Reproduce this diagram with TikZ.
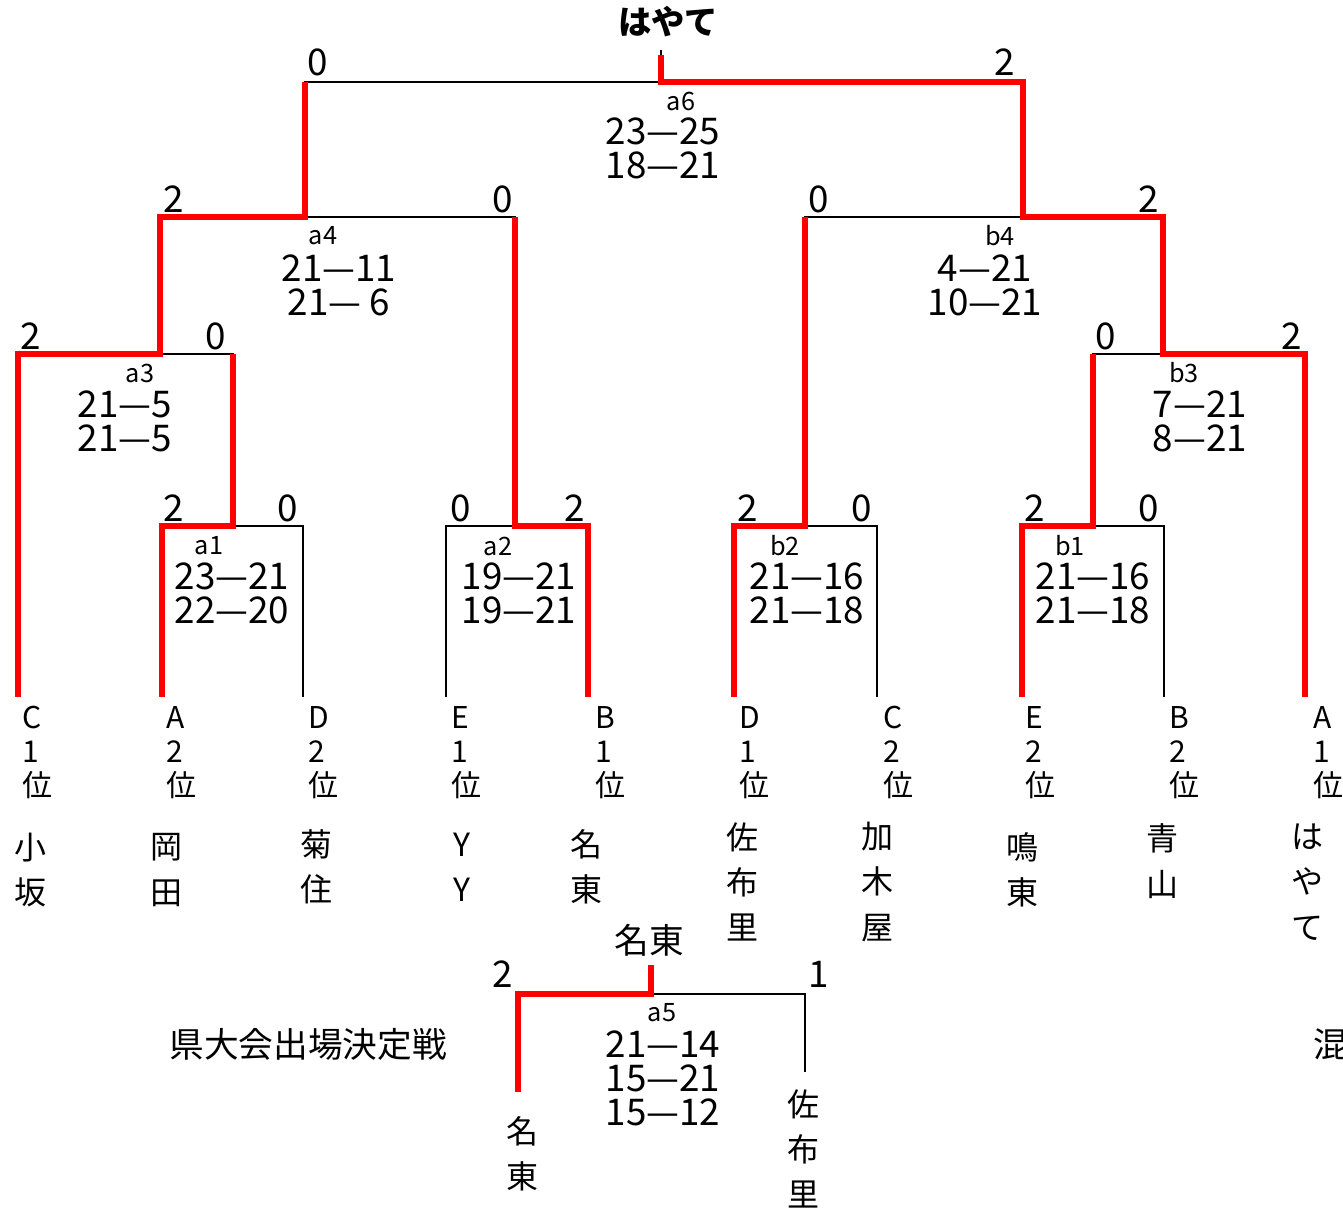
\documentclass[tikz,border=0pt]{standalone}
\usepackage{fontspec}
\setmainfont{Noto Sans CJK JP}
\newcommand\myscore{\fontsize{27.6}{25.5}\selectfont}
\newcommand\mymatch{\fontsize{19}{20}\selectfont}
\newcommand\myleaf{\fontsize{22.5}{25.5}\selectfont}
\newcommand\myteam{\fontsize{24}{34}\selectfont}
\newcommand\mybig{\fontsize{26}{30}\selectfont}
\newcommand\mytitle{\fontsize{25}{30}\selectfont\bfseries}
\tikzset{
  bk/.style={line width=1.5pt, black},
  rd/.style={line width=4.5pt, red},
  pts/.style={font=\myscore, inner sep=0pt},
  mlab/.style={font=\mymatch, inner sep=0pt},
  sco/.style={font=\myscore, align=center, inner sep=0pt},
  leaf/.style={font=\myleaf, align=left, anchor=north west, inner sep=0pt},
  team/.style={font=\myteam, align=center, inner sep=0pt},
}
\begin{document}
\begin{tikzpicture}[x=0.75pt,y=-0.75pt]
\useasboundingbox (0,0) rectangle (1343,1209);
% leaf ends
\coordinate (l1) at (18,697);
\coordinate (l2) at (162,697);
\coordinate (l3) at (303,697);
\coordinate (l4) at (446,697);
\coordinate (l5) at (588,697);
\coordinate (l6) at (734,697);
\coordinate (l7) at (877,697);
\coordinate (l8) at (1022,697);
\coordinate (l9) at (1164,697);
\coordinate (l10) at (1305,697);
% junctions
\coordinate (a1) at (233,526);
\coordinate (a2) at (515,526);
\coordinate (b2) at (805,526);
\coordinate (b1) at (1093,526);
\coordinate (a3) at (160,354);
\coordinate (b3) at (1163,354);
\coordinate (a4) at (305,217);
\coordinate (b4) at (1023,217);
\coordinate (a6) at (661,82);
\coordinate (top) at (661,50);
\coordinate (top2) at (661,55);
\coordinate (a5) at (651,994);
\coordinate (a5top) at (651,965);
\coordinate (m1) at (518,1092);
\coordinate (m2) at (805,1072);
% black bracket
\draw[bk] (l2) |- (a1) -| (l3);
\draw[bk] (l4) |- (a2) -| (l5);
\draw[bk] (l6) |- (b2) -| (l7);
\draw[bk] (l8) |- (b1) -| (l9);
\draw[bk] (l1) |- (a3) -| (a1);
\draw[bk] (b1) |- (b3) -| (l10);
\draw[bk] (a3) |- (a4) -| (a2);
\draw[bk] (b2) |- (b4) -| (b3);
\draw[bk] (a4) |- (a6) -| (b4);
\draw[bk] (a6) -- (top);
\draw[bk] (m1) |- (a5) -| (m2);
\draw[bk] (a5) -- (a5top);
% red winner paths
\draw[rd] (l2) |- (a1) -- (a1 |- a3);
\draw[rd] (l5) |- (a2) -- (a2 |- a4);
\draw[rd] (l6) |- (b2) -- (b2 |- b4);
\draw[rd] (l8) |- (b1) -- (b1 |- b3);
\draw[rd] (l1) |- (a3) -- (a3 |- a4) -- (a4) -- (a4 |- a6);
\draw[rd] (l10) |- (b3) -- (b3 |- b4) -- (b4) -- (b4 |- a6) -- (a6) -- (top2);
\draw[rd] (m1) |- (a5) -- (a5top);
% title
\node[font=\mytitle, inner sep=0pt] (champ) at (668,22) {はやて};
% game points
\node[pts] (p6l) at (318,62) {0};
\node[pts] (p6r) at (1005,62) {2};
\node[pts] (p4l) at (174,199) {2};
\node[pts] (p4r) at (503,199) {0};
\node[pts] (q4l) at (819,199) {0};
\node[pts] (q4r) at (1149,199) {2};
\node[pts] (p3l) at (31,336) {2};
\node[pts] (p3r) at (216,336) {0};
\node[pts] (q3l) at (1106,336) {0};
\node[pts] (q3r) at (1292,336) {2};
\node[pts] (p1l) at (174,508) {2};
\node[pts] (p1r) at (288,508) {0};
\node[pts] (p2l) at (461,508) {0};
\node[pts] (p2r) at (575,508) {2};
\node[pts] (q2l) at (748,508) {2};
\node[pts] (q2r) at (862,508) {0};
\node[pts] (q1l) at (1035,508) {2};
\node[pts] (q1r) at (1149,508) {0};
\node[pts] (p5l) at (503,974) {2};
\node[pts] (p5r) at (819,974) {1};
% match labels and scores
\node[mlab] (ma6) at (681,101) {a6};
\node[sco] (sa6) at (663,148) {23—25\\18—21};
\node[mlab] (ma4) at (323,236) {a4};
\node[sco] (sa4) at (339,285) {21—11\\21— 6};
\node[mlab] (mb4) at (1000,236) {b4};
\node[sco] (sb4) at (985,285) {4—21\\10—21};
\node[mlab] (ma3) at (140,373) {a3};
\node[sco] (sa3) at (125,421) {21—5\\21—5};
\node[mlab] (mb3) at (1184,373) {b3};
\node[sco] (sb3) at (1200,421) {7—21\\8—21};
\node[mlab] (ma1) at (209,546) {a1};
\node[sco] (sa1) at (232,593) {23—21\\22—20};
\node[mlab] (ma2) at (498,546) {a2};
\node[sco] (sa2) at (519,593) {19—21\\19—21};
\node[mlab] (mb2) at (785,546) {b2};
\node[sco] (sb2) at (807,593) {21—16\\21—18};
\node[mlab] (mb1) at (1070,546) {b1};
\node[sco] (sb1) at (1093,593) {21—16\\21—18};
\node[mlab] (ma5) at (662,1013) {a5};
\node[sco] (sa5) at (663,1078) {21—14\\15—21\\15—12};
% leaf labels
\node[leaf] (t1) at (22,706) {C\\1\\位};
\node[leaf] (t2) at (166,706) {A\\2\\位};
\node[leaf] (t3) at (308,706) {D\\2\\位};
\node[leaf] (t4) at (451,706) {E\\1\\位};
\node[leaf] (t5) at (595,706) {B\\1\\位};
\node[leaf] (t6) at (739,706) {D\\1\\位};
\node[leaf] (t7) at (883,706) {C\\2\\位};
\node[leaf] (t8) at (1025,706) {E\\2\\位};
\node[leaf] (t9) at (1169,706) {B\\2\\位};
\node[leaf] (t10) at (1313,706) {A\\1\\位};
% team names
\node[team] (n1) at (30,870) {小\\坂};
\node[team] (n2) at (166,870) {岡\\田};
\node[team] (n3) at (316,867) {菊\\住};
\node[team] (n4) at (462,867) {Y\\Y};
\node[team] (n5) at (586,867) {名\\東};
\node[team] (n6) at (742,882) {佐\\布\\里};
\node[team] (n7) at (877,882) {加\\木\\屋};
\node[team] (n8) at (1022,870) {鳴\\東};
\node[team] (n9) at (1162,861) {青\\山};
\node[team] (n10) at (1307,882) {は\\や\\て};
% final for prefectural
\node[font=\mybig, inner sep=0pt] (w5) at (649,940) {名東};
\node[font=\mybig, inner sep=0pt] (ttl) at (308,1044) {県大会出場決定戦};
\node[font=\mybig, inner sep=0pt, anchor=west] (mix) at (1313,1044) {混};
\node[team] (f1) at (522,1154) {名\\東};
\node[team] (f2) at (803,1149) {佐\\布\\里};
\end{tikzpicture}
\end{document}
